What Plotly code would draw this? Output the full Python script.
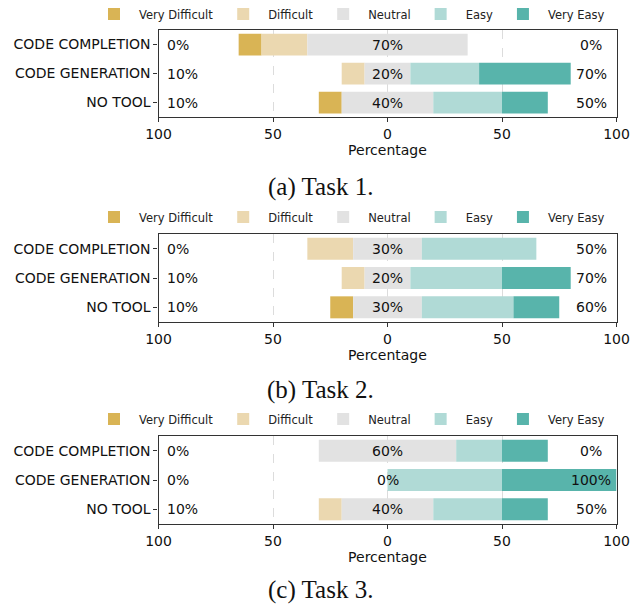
import plotly.graph_objects as go

categories = ["CODE COMPLETION", "CODE GENERATION", "NO TOOL"]
levels = ["Very Difficult", "Difficult", "Neutral", "Easy", "Very Easy"]
colors = ["#d9b455", "#ebd8b0", "#e2e2e2", "#b0dad6", "#58b4ab"]

# Task 1
t1_very_difficult = [10, 0, 10]
t1_difficult = [20, 10, 0]
t1_neutral = [70, 20, 40]
t1_easy = [0, 30, 30]
t1_very_easy = [0, 40, 20]
t1_left_labels = ["0%", "10%", "10%"]
t1_right_labels = ["0%", "70%", "50%"]

# Task 2
t2_very_difficult = [0, 0, 10]
t2_difficult = [20, 10, 0]
t2_neutral = [30, 20, 30]
t2_easy = [50, 40, 40]
t2_very_easy = [0, 30, 20]
t2_left_labels = ["0%", "10%", "10%"]
t2_right_labels = ["50%", "70%", "60%"]

# Task 3
t3_very_difficult = [0, 0, 0]
t3_difficult = [0, 0, 10]
t3_neutral = [60, 0, 40]
t3_easy = [20, 50, 30]
t3_very_easy = [20, 50, 20]
t3_left_labels = ["0%", "0%", "10%"]
t3_right_labels = ["0%", "100%", "50%"]

captions = ["(a) Task 1.", "(b) Task 2.", "(c) Task 3."]
tick_vals = [-100, -50, 0, 50, 100]
tick_text = ["100", "50", "0", "50", "100"]

tasks = [
    ([t1_very_difficult, t1_difficult, t1_neutral, t1_easy, t1_very_easy], t1_left_labels, t1_right_labels),
    ([t2_very_difficult, t2_difficult, t2_neutral, t2_easy, t2_very_easy], t2_left_labels, t2_right_labels),
    ([t3_very_difficult, t3_difficult, t3_neutral, t3_easy, t3_very_easy], t3_left_labels, t3_right_labels),
]

W, H = 641, 610
FONT = "DejaVu Sans"
# pixel layout of each panel: (box top, box bottom, legend y, caption y)
panels_px = [(30, 117, 14, 187), (234, 322, 217, 390), (436, 524, 419, 590)]
x_dom = [158.5 / W, 616.5 / W]

fig = go.Figure()
annotations = []
legend_names = ["legend", "legend2", "legend3"]

for i, (series, left_lab, right_lab) in enumerate(tasks):
    ax = "" if i == 0 else str(i + 1)
    xref, yref = "x" + ax, "y" + ax
    vd, d, n = series[0], series[1], series[2]
    starts = [-(vd[k] + d[k] + n[k] / 2) for k in range(len(categories))]
    for lvl, vals, col in zip(levels, series, colors):
        fig.add_trace(go.Bar(
            y=categories, x=vals, base=list(starts), orientation="h",
            name=lvl, marker=dict(color=col, line=dict(width=0)),
            width=0.75, xaxis=xref, yaxis=yref, legend=legend_names[i],
            hoverinfo="skip",
        ))
        starts = [s + v for s, v in zip(starts, vals)]
    for k, cat in enumerate(categories):
        annotations.append(dict(x=-97, y=cat, xref=xref, yref=yref, text=left_lab[k],
                                showarrow=False, xanchor="left",
                                font=dict(family=FONT, size=14, color="#111")))
        annotations.append(dict(x=0, y=cat, xref=xref, yref=yref, text=f"{n[k]}%",
                                showarrow=False, xanchor="center",
                                font=dict(family=FONT, size=14, color="#111")))
        annotations.append(dict(x=89, y=cat, xref=xref, yref=yref, text=right_lab[k],
                                showarrow=False, xanchor="center",
                                font=dict(family=FONT, size=14, color="#111")))
    top, bot, leg_y, cap_y = panels_px[i]
    annotations.append(dict(x=0.5, y=1 - cap_y / H, xref="paper", yref="paper",
                            text=captions[i], showarrow=False, xanchor="center", yanchor="middle",
                            font=dict(family="Liberation Serif", size=25, color="#111")))
    fig.layout["xaxis" + ax] = dict(
        domain=x_dom, range=[-100, 100], anchor=yref, automargin=False,
        tickvals=tick_vals, ticktext=tick_text, ticks="outside", ticklen=4, tickcolor="#333",
        showline=True, mirror=True, linecolor="#333", linewidth=1.2,
        showgrid=True, gridcolor="#dcdcdc", griddash="dash", gridwidth=1, zeroline=False,
        tickfont=dict(family=FONT, size=14, color="#111"),
        title=dict(text="Percentage", standoff=4, font=dict(family=FONT, size=14, color="#111")),
    )
    fig.layout["yaxis" + ax] = dict(
        domain=[1 - bot / H, 1 - top / H], anchor=xref, automargin=False,
        categoryorder="array", categoryarray=categories, autorange="reversed",
        ticks="outside", ticklen=4, tickcolor="#333",
        showline=True, mirror=True, linecolor="#333", linewidth=1.2, showgrid=False,
        tickfont=dict(family=FONT, size=14, color="#111"),
    )
    fig.layout[legend_names[i]] = dict(
        orientation="h", x=89 / W, xanchor="left", y=1 - leg_y / H, yanchor="middle",
        font=dict(family=FONT, size=11.5, color="#222"), bgcolor="rgba(0,0,0,0)",
        traceorder="normal", itemwidth=40,
    )

fig.update_layout(
    width=W, height=H, margin=dict(l=0, r=0, t=0, b=0, autoexpand=False),
    barmode="overlay", plot_bgcolor="white", paper_bgcolor="white",
    annotations=annotations, showlegend=True,
)
fig.write_html("out.html", config={"displayModeBar": False},
               post_script="document.body.style.margin='0';document.body.style.overflow='hidden';")
